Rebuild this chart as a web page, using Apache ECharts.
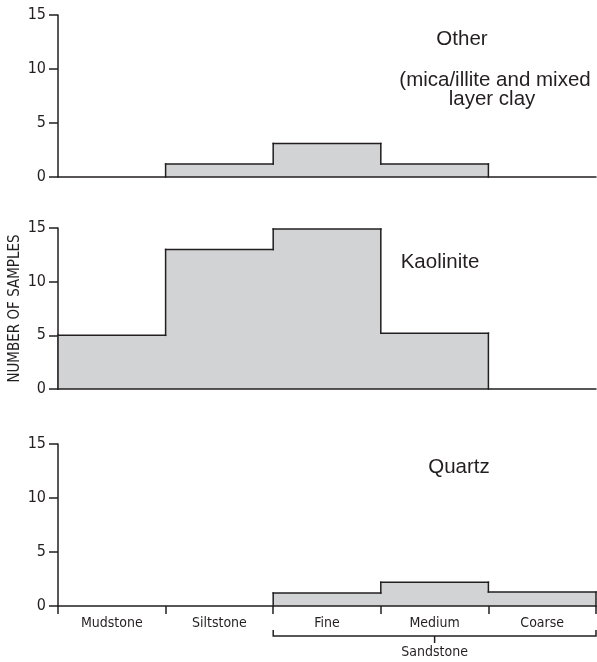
<!DOCTYPE html>
<html>
<head>
<meta charset="utf-8">
<script src="https://cdn.jsdelivr.net/npm/echarts@6/dist/echarts.min.js"></script>
<style>
html,body{margin:0;padding:0;background:#fff;}
#chart{width:597px;height:662px;}
</style>
</head>
<body>
<div id="chart"></div>
<script>
// ---- data ----
const categories = ['Mudstone', 'Siltstone', 'Fine', 'Medium', 'Coarse'];
const otherValues = [0, 1.2, 3.1, 1.2, 0];
const kaoliniteValues = [5, 13, 14.9, 5.2, 0];
const quartzValues = [0, 0, 1.2, 2.2, 1.3];
const yMin = 0, yMax = 15, yInterval = 5;
const panelTitles = ['Other', 'Kaolinite', 'Quartz'];
const otherSubtitleLines = ['(mica/illite and mixed', 'layer clay'];
const groupLabel = 'Sandstone';
const groupStart = 'Fine', groupEnd = 'Coarse';
const yAxisName = 'NUMBER OF SAMPLES';

// ---- styles ----
const INK = '#231f20';
const FILL = '#d2d3d5';
const NARROW = '"Liberation Sans Narrow", "DejaVu Sans Condensed", "Liberation Sans", sans-serif';
const SANS = '"Liberation Sans", Arial, Helvetica, sans-serif';

const chart = echarts.init(document.getElementById('chart'), null, {renderer: 'canvas'});

const grids = [
  {left: 58, right: 1, top: 15, height: 162, outerBoundsMode: 'none', containLabel: false},
  {left: 58, right: 1, top: 228, height: 161, outerBoundsMode: 'none', containLabel: false},
  {left: 58, right: 1, top: 444, height: 162, outerBoundsMode: 'none', containLabel: false}
];

function makeRender(values) {
  return function (params, api) {
    const idx = params.dataIndex;
    const v = values[idx];
    const prev = idx > 0 ? values[idx - 1] : 0;
    const c = api.coord([idx, v]);
    const base = api.coord([idx, 0]);
    const w = api.size([1, 0])[0];
    const x0 = c[0] - w / 2, x1 = c[0] + w / 2;
    const children = [];
    const ls = {stroke: INK, lineWidth: 1.5, lineCap: 'square'};
    if (v > 0) {
      children.push({type: 'rect', z2: 0, shape: {x: x0 - 0.5, y: c[1], width: w + 1, height: base[1] - c[1]}, style: {fill: FILL}});
      children.push({type: 'line', z2: 10, shape: {x1: x0, y1: c[1], x2: x1, y2: c[1]}, style: ls});
    }
    if (prev !== v) {
      const yp = api.coord([idx, prev])[1];
      children.push({type: 'line', z2: 10, shape: {x1: x0, y1: yp, x2: x0, y2: c[1]}, style: ls});
    }
    if (idx === values.length - 1 && v > 0) {
      children.push({type: 'line', z2: 10, shape: {x1: x1, y1: c[1], x2: x1, y2: base[1]}, style: ls});
    }
    return {type: 'group', children: children};
  };
}

const seriesValues = [otherValues, kaoliniteValues, quartzValues];

const xAxes = grids.map((g, i) => ({
  type: 'category',
  gridIndex: i,
  data: categories,
  boundaryGap: true,
  z: 5,
  axisLine: {show: true, lineStyle: {color: INK, width: 1.5}},
  axisTick: {show: i === 2, length: 8, lineStyle: {color: INK, width: 1.5}},
  axisLabel: {show: i === 2, color: INK, fontFamily: NARROW, fontSize: 14, margin: 10},
  splitLine: {show: false}
}));

const yAxes = grids.map((g, i) => ({
  type: 'value',
  gridIndex: i,
  min: yMin, max: yMax, interval: yInterval,
  name: i === 1 ? yAxisName : '',
  nameLocation: 'middle',
  nameGap: 35,
  nameMoveOverlap: false,
  nameTextStyle: {color: INK, fontFamily: NARROW, fontSize: 15},
  axisLine: {show: true, lineStyle: {color: INK, width: 1.5}},
  axisTick: {show: true, length: 9, lineStyle: {color: INK, width: 1.5}},
  axisLabel: {color: INK, fontFamily: NARROW, fontSize: 16, margin: 12},
  splitLine: {show: false}
}));

const series = seriesValues.map((vals, i) => ({
  type: 'custom',
  xAxisIndex: i,
  yAxisIndex: i,
  clip: false,
  data: vals.map((v, k) => [k, v]),
  encode: {x: 0, y: 1},
  renderItem: makeRender(vals),
  silent: true
}));

function label(text, x, y, size) {
  return {type: 'text', x: x, y: y, z: 10,
    style: {text: text, fill: INK, font: size + 'px ' + SANS, textAlign: 'center', textVerticalAlign: 'middle'}};
}

chart.setOption({
  animation: false,
  backgroundColor: '#ffffff',
  grid: grids,
  xAxis: xAxes,
  yAxis: yAxes,
  series: series
});

// group bracket (Sandstone) computed from axis scale
const xs = chart.convertToPixel({xAxisIndex: 2}, groupStart);
const xe = chart.convertToPixel({xAxisIndex: 2}, groupEnd);
const band = chart.convertToPixel({xAxisIndex: 2}, categories[1]) - chart.convertToPixel({xAxisIndex: 2}, categories[0]);
const bx0 = xs - band / 2, bx1 = xe + band / 2;
const by = chart.convertToPixel({yAxisIndex: 2}, 0);
const bmid = (bx0 + bx1) / 2;
const bl = {stroke: INK, lineWidth: 1.5};
chart.setOption({
  graphic: [
    label(panelTitles[0], 462, 39, 20.5),
    label(otherSubtitleLines[0], 495, 80, 20.5),
    label(otherSubtitleLines[1], 492, 99, 20.5),
    label(panelTitles[1], 440, 262, 20.5),
    label(panelTitles[2], 459, 467, 20.5),
    {type: 'polyline', shape: {points: [[bx0, by + 24], [bx0, by + 30], [bx1, by + 30], [bx1, by + 24]]}, style: Object.assign({fill: null}, bl)},
    {type: 'line', shape: {x1: bmid, y1: by + 30, x2: bmid, y2: by + 37}, style: bl},
    {type: 'text', x: bmid, y: by + 46, style: {text: groupLabel, fill: INK, font: '14px ' + NARROW, textAlign: 'center', textVerticalAlign: 'middle'}}
  ]
});
</script>
</body>
</html>
